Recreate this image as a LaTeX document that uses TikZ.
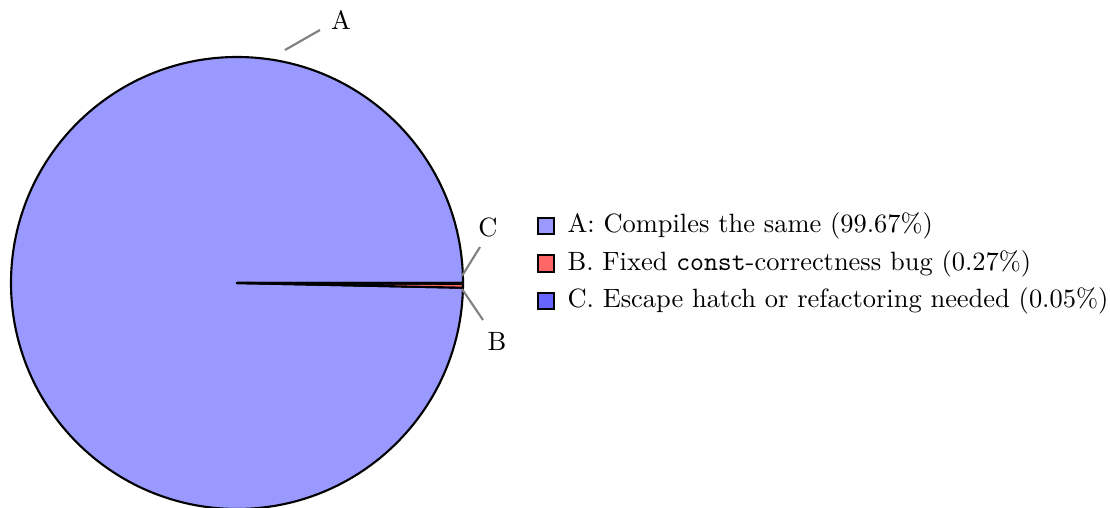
\documentclass[tikz,border=0pt]{standalone}
\begin{document}
\begin{tikzpicture}[x=0.378pt,y=0.378pt,
  slice/.style={draw=black,thick,line join=round},
  lbl/.style={draw=gray,thick},
  legbox/.style={draw=black,thick,minimum size=6.2pt,inner sep=0pt},
  legtext/.style={anchor=west,inner sep=0pt}]
\useasboundingbox (0,0) rectangle (1110,508);
\coordinate (O) at (237,225);
\def\R{226}
% slices
\filldraw[slice,fill=blue!40] (O) -- +(0:\R) arc[start angle=0,end angle=358.8,radius=\R] -- cycle;
\filldraw[slice,fill=red!60] (O) -- +(358.8:\R) arc[start angle=358.8,end angle=359.8,radius=\R] -- cycle;
\filldraw[slice,fill=blue!60] (O) -- +(359.8:\R) arc[start angle=359.8,end angle=360,radius=\R] -- cycle;
% labels
\coordinate (a1) at (285,458); \coordinate (a2) at (320,478);
\node (la) at (341,488) {A};
\draw[lbl] (a1) -- (a2);
\coordinate (c1) at (462,232); \coordinate (c2) at (480,261);
\node (lc) at (488,281) {C};
\draw[lbl] (c1) -- (c2);
\coordinate (b1) at (462,219); \coordinate (b2) at (483,188);
\node (lb) at (497,167) {B};
\draw[lbl] (b1) -- (b2);
% legend
\node[legbox,fill=blue!40] (k1) at (546,282) {};
\node[legtext] (t1) at (567,282) {A: Compiles the same (99.67\%)};
\node[legbox,fill=red!60] (k2) at (546,244.5) {};
\node[legtext] (t2) at (567,244.5) {B. Fixed \texttt{const}-correctness bug (0.27\%)};
\node[legbox,fill=blue!60] (k3) at (546,207) {};
\node[legtext] (t3) at (567,207) {C. Escape hatch or refactoring needed (0.05\%)};
\end{tikzpicture}
\end{document}
